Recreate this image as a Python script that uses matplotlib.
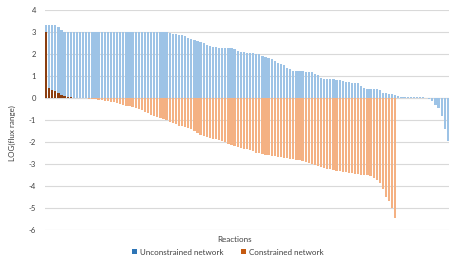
import matplotlib
matplotlib.use("Agg")
import matplotlib.pyplot as plt
import numpy as np
from matplotlib.patches import Patch

plt.rcParams['font.family'] = ['Lato', 'DejaVu Sans']

unconstrained = [
    3.3, 3.3, 3.3, 3.3, 3.25, 3.1,
    3.0, 3.0, 3.0, 3.0, 3.0, 3.0, 3.0, 3.0, 3.0, 3.0,
    3.0, 3.0, 3.0, 3.0, 3.0, 3.0, 3.0, 3.0, 3.0, 3.0,
    3.0, 3.0, 3.0, 3.0, 3.0, 3.0, 3.0, 3.0, 3.0, 3.0,
    3.0, 3.0, 3.0, 3.0,
    2.97, 2.92, 2.9, 2.88, 2.85, 2.8, 2.75, 2.68, 2.62, 2.6,
    2.56, 2.48, 2.42, 2.36, 2.32, 2.3, 2.28, 2.27, 2.27, 2.26,
    2.26, 2.25, 2.15, 2.1, 2.07, 2.05, 2.04, 2.03, 2.02, 1.98,
    1.92, 1.86, 1.82, 1.78, 1.68, 1.6, 1.54, 1.5, 1.38, 1.3,
    1.25, 1.22, 1.21, 1.21, 1.2, 1.2, 1.18, 1.08, 1.03, 0.9,
    0.88, 0.87, 0.86, 0.85, 0.84, 0.82, 0.76, 0.75, 0.73, 0.7,
    0.67, 0.66, 0.55, 0.45, 0.42, 0.41, 0.4, 0.39, 0.37, 0.25,
    0.22, 0.2, 0.18, 0.15, 0.08, 0.04, 0.04, 0.04, 0.04, 0.04,
    0.03, 0.03, 0.03, 0.02, -0.05, -0.15, -0.3, -0.45, -0.8, -1.4,
    -1.95,
]

constrained = [
    3.0, 0.45, 0.38, 0.32, 0.22, 0.15, 0.08, 0.05, 0.03, 0.02,
    0.01, -0.01, -0.02, -0.02, -0.03, -0.04, -0.05, -0.07, -0.1, -0.12,
    -0.15, -0.17, -0.2, -0.22, -0.26, -0.3, -0.35, -0.38, -0.42, -0.45,
    -0.48, -0.55, -0.62, -0.7, -0.75, -0.8, -0.85, -0.9, -0.95, -1.0,
    -1.1, -1.15, -1.2, -1.25, -1.28, -1.3, -1.35, -1.4, -1.5, -1.6,
    -1.66, -1.72, -1.78, -1.82, -1.85, -1.88, -1.9, -1.95, -2.02, -2.08,
    -2.14, -2.18, -2.22, -2.25, -2.3, -2.33, -2.36, -2.42, -2.48, -2.52,
    -2.55, -2.58, -2.6, -2.62, -2.65, -2.68, -2.7, -2.72, -2.74, -2.76,
    -2.78, -2.8, -2.82, -2.85, -2.9, -2.95, -3.0, -3.05, -3.1, -3.15,
    -3.18, -3.22, -3.25, -3.28, -3.3, -3.33, -3.36, -3.38, -3.4, -3.42,
    -3.44, -3.46, -3.48, -3.5, -3.52, -3.56, -3.62, -3.72, -3.85, -4.15,
    -4.5, -4.7, -5.0, -5.45,
]

y_ticks = [4, 3, 2, 1, 0, -1, -2, -3, -4, -5, -6]
series_names = ["Unconstrained network", "Constrained network"]
x_label = "Reactions"
y_label = "LOG(flux range)"

n = len(unconstrained)
x_u = np.arange(n)
x_c = np.arange(len(constrained))

fig = plt.figure(figsize=(4.59, 2.60), dpi=100)
ax = fig.add_axes([0.097, 0.1154, 0.882, 0.8461])

blue_fill = '#9DC3E6'
orange_fill = '#F4B183'
brown = '#8B3E10'

ax.bar(x_u, unconstrained, width=0.72, color=blue_fill, linewidth=0, zorder=2)
c_colors = [brown if v > 0 else orange_fill for v in constrained]
ax.bar(x_c, constrained, width=0.72, color=c_colors, linewidth=0, zorder=3)

ax.set_xlim(-0.5, n - 0.5)
ax.set_ylim(-6, 4)
ax.set_yticks(y_ticks)
ax.set_yticklabels([str(t) for t in y_ticks], fontsize=5.5, color='#404040')
ax.set_xticks([])
ax.yaxis.grid(True, color='#D9D9D9', linewidth=0.8, zorder=0)
ax.set_axisbelow(True)
for s in ax.spines.values():
    s.set_visible(False)
ax.tick_params(axis='y', length=0, pad=6)
ax.axhline(0, color='#D9D9D9', linewidth=0.8, zorder=1)

fig.text(0.512, 0.077, x_label, ha='center', va='center', fontsize=5.8, color='#404040')
fig.text(0.026, 0.49, y_label, ha='center', va='center', rotation=90, fontsize=5.8, color='#404040')

handles = [Patch(facecolor='#2E75B6', edgecolor='none'),
           Patch(facecolor='#C55A11', edgecolor='none')]
fig.legend(handles, series_names, loc='center', bbox_to_anchor=(0.497, 0.03),
           ncol=2, frameon=False, fontsize=5.8, handlelength=0.6, handleheight=0.6,
           handletextpad=0.4, columnspacing=2.2, labelcolor='#404040')

fig.savefig('out.png', dpi=100)
